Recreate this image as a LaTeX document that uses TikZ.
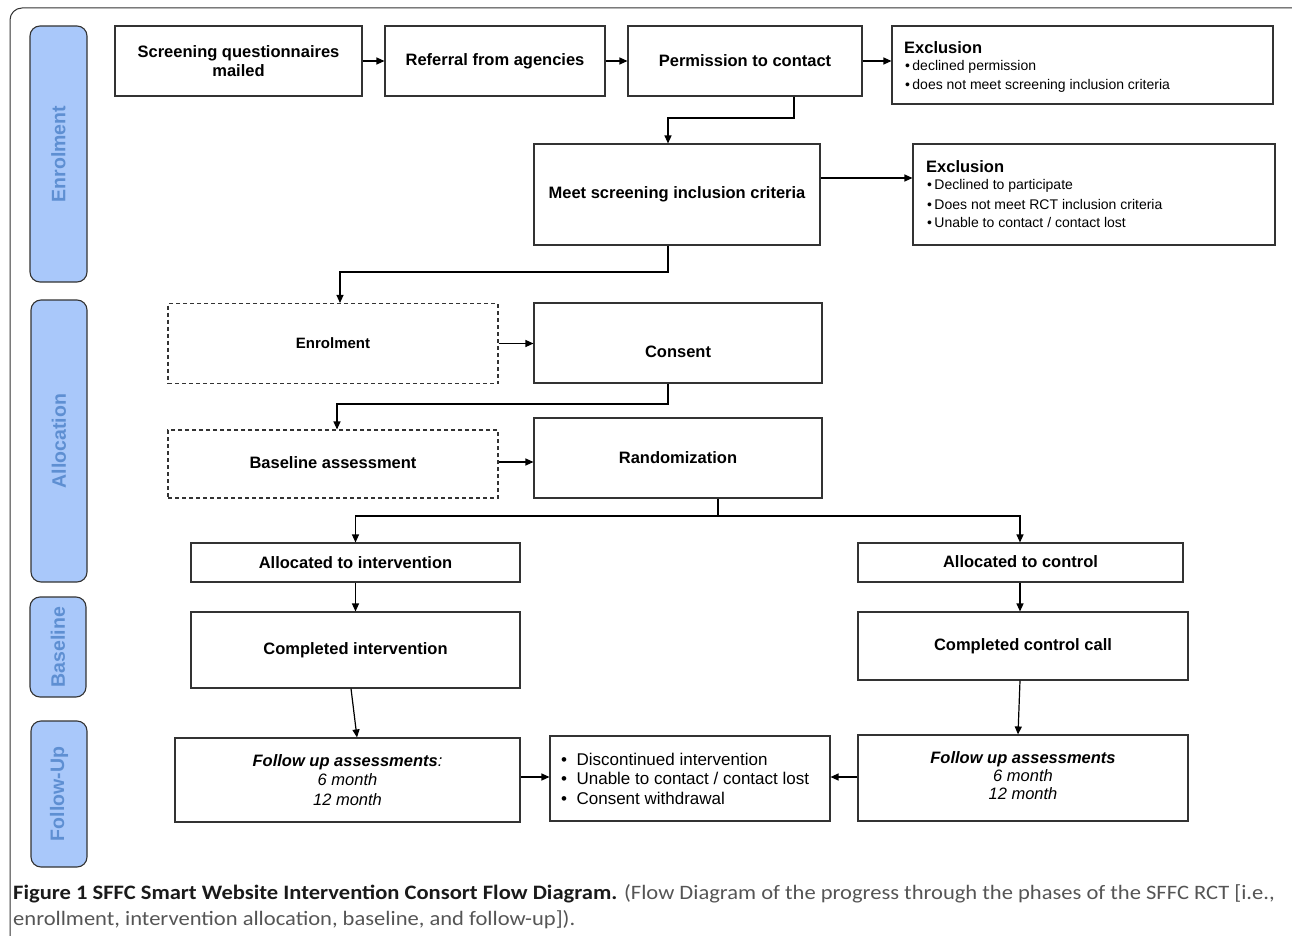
\documentclass[tikz,border=0pt]{standalone}
\usepackage{fontspec}
\setmainfont{Liberation Sans}
\newfontfamily\capfont[FakeStretch=1.1]{Carlito}
\usetikzlibrary{arrows.meta,calc}
\definecolor{lanefill}{HTML}{A9C8FA}
\definecolor{lanetext}{HTML}{5E8FD2}
\definecolor{edgec}{HTML}{333333}
\definecolor{capdark}{HTML}{1A1A1A}
\definecolor{capgray}{HTML}{555555}
\begin{document}
\begin{tikzpicture}[x=1pt,y=-1pt,
  box/.style={draw=edgec, line width=1.1pt, fill=white, align=center, inner sep=0pt,
    font=\bfseries\fontsize{16.5}{19.5}\selectfont},
  dbox/.style={box, dash pattern=on 4pt off 3pt},
  arr/.style={-{Triangle[length=8pt,width=7pt]}, line width=1.2pt},
  lane/.style={draw=edgec, fill=lanefill, rounded corners=10pt, line width=1.1pt, inner sep=0pt},
  lanelbl/.style={rotate=90, text=lanetext, font=\bfseries\fontsize{19.5}{22}\selectfont},
  txt/.style={align=left, inner sep=0pt, anchor=west}]
\useasboundingbox (0,0) rectangle (1292,936);
\begin{scope}
\clip (0,0) rectangle (1292,936);
\draw[edgec, line width=1pt, rounded corners=12pt] (10,8) rectangle (1310,960);
\end{scope}

% lanes
\node[lane, minimum width=57pt, minimum height=256pt] (l1) at (58.5,154) {};
\node[lanelbl] (l1t) at (l1) {Enrolment};
\node[lane, minimum width=56pt, minimum height=282pt] (l2) at (59,441) {};
\node[lanelbl] (l2t) at (l2) {Allocation};
\node[lane, minimum width=56pt, minimum height=100pt] (l3) at (58,647) {};
\node[lanelbl] (l3t) at (l3) {Baseline};
\node[lane, minimum width=56pt, minimum height=146pt] (l4) at (59,794) {};
\node[lanelbl] (l4t) at (l4) {Follow-Up};

% row 1
\node[box, minimum width=247pt, minimum height=70pt] (scr) at (238.5,61) {Screening questionnaires\\mailed};
\node[box, minimum width=220pt, minimum height=70pt] (ref) at (495,61) {Referral from agencies};
\node[box, minimum width=234pt, minimum height=70pt] (perm) at (745,61) {Permission to contact};
\node[box, minimum width=381pt, minimum height=78pt] (exc1) at (1082.5,65) {};
\node[txt, font=\bfseries\fontsize{16.5}{19}\selectfont] (exc1t) at (904,48) {Exclusion};
\node[txt, font=\fontsize{14}{16}\selectfont] (exc1a) at (905,67) {\textbullet\,declined permission};
\node[txt, font=\fontsize{14}{16}\selectfont] (exc1b) at (905,86) {\textbullet\,does not meet screening inclusion criteria};

% row 2
\node[box, minimum width=286pt, minimum height=101pt] (meet) at (677,194.5) {Meet screening inclusion criteria};
\node[box, minimum width=362pt, minimum height=101pt] (exc2) at (1094,194.5) {};
\node[txt, font=\bfseries\fontsize{16.5}{19}\selectfont] (exc2t) at (926,167) {Exclusion};
\node[txt, font=\fontsize{14}{16}\selectfont] (exc2a) at (927,186) {\textbullet\,Declined to participate};
\node[txt, font=\fontsize{14}{16}\selectfont] (exc2b) at (927,204) {\textbullet\,Does not meet RCT inclusion criteria};
\node[txt, font=\fontsize{14}{16}\selectfont] (exc2c) at (927,222) {\textbullet\,Unable to contact / contact lost};

% allocation
\node[dbox, minimum width=330pt, minimum height=80pt, font=\bfseries\fontsize{15}{18}\selectfont] (enr) at (333,343.5) {Enrolment};
\node[box, minimum width=288pt, minimum height=80pt] (cons) at (678,343) {\raisebox{-14pt}[0pt][0pt]{Consent}};
\node[dbox, minimum width=330pt, minimum height=68pt] (bas) at (333,464) {\raisebox{-4pt}[0pt][0pt]{Baseline assessment}};
\node[box, minimum width=288pt, minimum height=80pt] (rand) at (678,458) {Randomization};
\node[box, minimum width=329pt, minimum height=39pt] (ai) at (355.5,562.5) {Allocated to intervention};
\node[box, minimum width=325pt, minimum height=39pt] (ac) at (1020.5,562.5) {\raisebox{-4.5pt}[0pt][0pt]{Allocated to control}};

% baseline
\node[box, minimum width=329pt, minimum height=76pt] (ci) at (355.5,650) {Completed intervention};
\node[box, minimum width=330pt, minimum height=68pt] (cc) at (1023,646) {Completed control call};

% follow-up
\node[box, minimum width=345pt, minimum height=84pt, font=\fontsize{16.5}{19.5}\selectfont] (fl) at (347.5,780)
  {\textbf{\textit{Follow up assessments}}\textit{:}\\\textit{6 month}\\\textit{12 month}};
\node[box, minimum width=280pt, minimum height=85pt] (mid) at (690,778.5) {};
\node[txt, font=\fontsize{17}{19.5}\selectfont] (midt) at (561,778.5)
  {\textbullet\ \ Discontinued intervention\\\textbullet\ \ Unable to contact / contact lost\\\textbullet\ \ Consent withdrawal};
\node[box, minimum width=330pt, minimum height=86pt, font=\fontsize{16.5}{19}\selectfont] (fr) at (1023,778)
  {\raisebox{3pt}{\begin{tabular}{@{}c@{}}\textbf{\textit{Follow up assessments}}\\[-1pt]\textit{6 month}\\[-1pt]\textit{12 month}\end{tabular}}};

% helper coordinates
\coordinate (k1) at (794,118);
\coordinate (k2) at (668,118);
\coordinate (k3) at (0,178);
\coordinate (k4) at (668,272);
\coordinate (k5) at (340,272);
\coordinate (k6) at (668,404);
\coordinate (k7) at (337,404);
\coordinate (k8) at (0,462);
\coordinate (k9) at (718,516);
\coordinate (k12) at (0,777);
\coordinate (c1) at (351,688);
\coordinate (c2) at (357,738);
\coordinate (c3) at (1020,0);
\coordinate (c4) at (1018,0);

% connectors
\draw[arr] (scr.east) -- (ref.west);
\draw[arr] (ref.east) -- (perm.west);
\draw[arr] (perm.east) -- (exc1.west |- perm.east);
\draw[arr] (perm.south -| k1) -- (k1) -- (k2) -- (meet.north -| k2);
\draw[arr] (meet.east |- k3) -- (exc2.west |- k3);
\draw[arr] (meet.south -| k4) -- (k4) -- (k5) -- (enr.north -| k5);
\draw[arr] (enr.east) -- (cons.west |- enr.east);
\draw[arr] (cons.south -| k6) -- (k6) -- (k7) -- (bas.north -| k7);
\draw[arr] (bas.east |- k8) -- (rand.west |- k8);
\draw[line width=1.2pt] (rand.south -| k9) -- (k9);
\draw[arr] (k9) -| (ai.north);
\draw[arr] (k9) -| (ac.north -| c3);
\draw[arr] (ai.south) -- (ci.north);
\draw[arr] (ac.south -| c3) -- (cc.north -| c3);
\draw[arr] (ci.south -| c1) -- (fl.north -| c2);
\draw[arr] (cc.south -| c3) -- (fr.north -| c4);
\draw[arr] (fl.east |- k12) -- (mid.west |- k12);
\draw[arr] (fr.west |- k12) -- (mid.east |- k12);

% caption
\node[anchor=north west, inner sep=0pt, align=left, font=\capfont\fontsize{20.5}{26}\selectfont] (cap) at (13,884)
  {\textcolor{capdark}{\bfseries Figure 1 SFFC Smart Website Intervention Consort Flow Diagram.} \textcolor{capgray}{(Flow Diagram of the progress through the phases of the SFFC RCT [i.e.,}\\
   \textcolor{capgray}{enrollment, intervention allocation, baseline, and follow-up]).}};
\end{tikzpicture}
\end{document}
